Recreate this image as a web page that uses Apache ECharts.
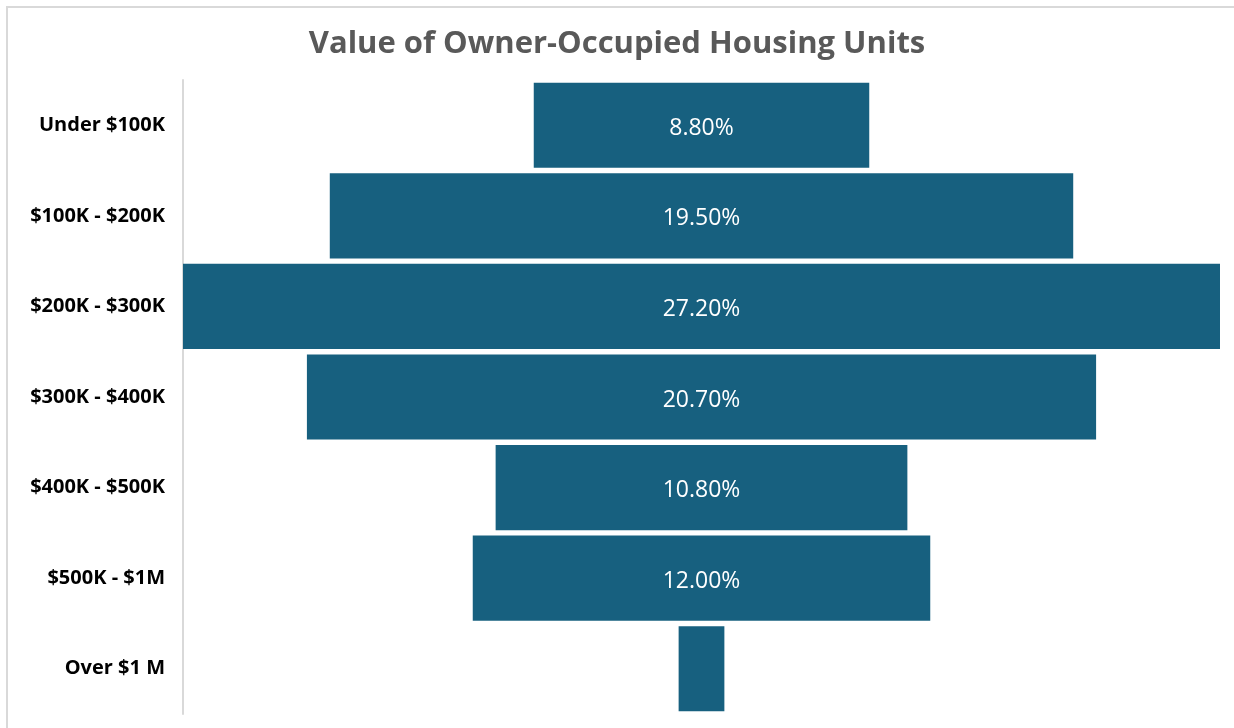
<!DOCTYPE html>
<html>
<head>
<meta charset="utf-8">
<script src="https://cdn.jsdelivr.net/npm/echarts@6/dist/echarts.min.js"></script>
<style>
  html, body { margin: 0; padding: 0; background: #fff; }
  #chart { width: 1234px; height: 728px; }
</style>
</head>
<body>
<div id="chart"></div>
<script>
// 房屋价值分布（漏斗图，用堆叠条形模拟）
var categories = ['Under $100K', '$100K - $200K', '$200K - $300K', '$300K - $400K', '$400K - $500K', '$500K - $1M', 'Over $1 M'];
var shares = [8.8, 19.5, 27.2, 20.7, 10.8, 12.0, 1.2];
var hiddenLabels = ['Over $1 M'];

var maxShare = Math.max.apply(null, shares);
// 透明占位，让条形居中
var padding = shares.map(function (v) { return (maxShare - v) / 2; });

var chart = echarts.init(document.getElementById('chart'));

chart.setOption({
  animation: false,
  title: {
    text: 'Value of Owner-Occupied Housing Units',
    left: 'center',
    top: 24,
    textStyle: {
      fontFamily: 'Open Sans',
      fontSize: 31,
      fontWeight: 'bold',
      color: '#595959'
    }
  },
  graphic: [{
    type: 'rect',
    shape: { x: 7, y: 7, width: 1240, height: 740 },
    style: { fill: 'none', stroke: '#d9d9d9', lineWidth: 2 }
  }],
  grid: {
    left: 183,
    right: 14,
    top: 80,
    bottom: 14
  },
  xAxis: {
    type: 'value',
    min: 0,
    max: maxShare,
    show: false
  },
  yAxis: {
    type: 'category',
    inverse: true,
    data: categories,
    axisLine: { lineStyle: { color: '#d9d9d9', width: 2 } },
    axisTick: { show: false },
    axisLabel: {
      margin: 18,
      padding: [5, 0, 0, 0],
      fontFamily: 'Open Sans',
      fontSize: 20,
      fontWeight: 'bold',
      color: '#000'
    }
  },
  series: [{
    type: 'bar',
    stack: 'funnel',
    data: padding,
    itemStyle: { color: 'transparent' },
    silent: true,
    barCategoryGap: '6%'
  }, {
    type: 'bar',
    stack: 'funnel',
    data: shares.map(function (v, i) {
      return {
        value: v,
        label: { show: hiddenLabels.indexOf(categories[i]) < 0 }
      };
    }),
    barCategoryGap: '6%',
    itemStyle: { color: '#17607f' },
    label: {
      show: true,
      position: 'inside',
      offset: [0, 3],
      color: '#fff',
      fontFamily: 'Open Sans',
      fontSize: 23,
      formatter: function (p) { return p.value.toFixed(2) + '%'; }
    }
  }]
});

window.addEventListener('resize', function () { chart.resize(); });
</script>
</body>
</html>
